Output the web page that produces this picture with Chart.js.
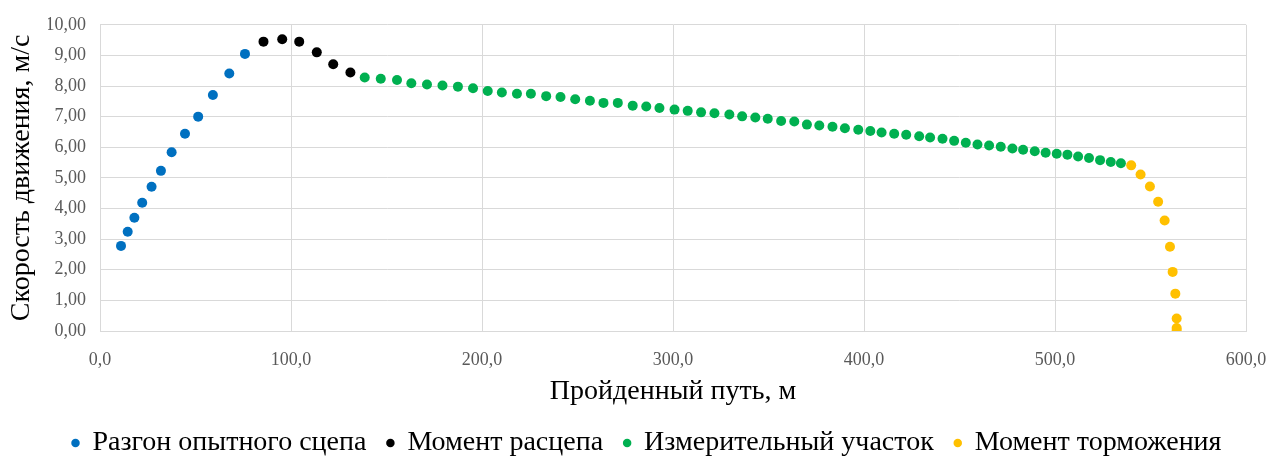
<!DOCTYPE html>
<html><head><meta charset="utf-8">
<script src="https://cdn.jsdelivr.net/npm/chart.js@4/dist/chart.umd.min.js"></script>
<style>html,body{margin:0;padding:0;background:#fff}#wrap{width:1269px;height:456px}</style>
</head><body><div id="wrap"><canvas id="c" width="1269" height="456"></canvas></div>
<script>
const seriesNames = ["Разгон опытного сцепа","Момент расцепа","Измерительный участок","Момент торможения"];
const seriesColors = ["#0070C0","#000000","#00B050","#FFC000"];
const xTitle = "Пройденный путь, м";
const yTitle = "Скорость движения, м/с";

const accelX = [11.0,14.5,18.0,22.1,27.0,31.9,37.5,44.5,51.4,59.1,67.7,75.9];
const accelY = [2.78,3.24,3.70,4.19,4.71,5.23,5.84,6.44,7.00,7.71,8.41,9.05];

const releaseX = [85.6,95.4,104.3,113.5,122.1,131.1];
const releaseY = [9.45,9.53,9.45,9.10,8.71,8.44];

const measureX = [138.6,147.0,155.5,163.0,171.2,179.3,187.4,195.3,203.0,210.4,218.3,225.6,233.6,241.1,248.8,256.5,263.6,271.1,278.9,286.0,292.9,300.8,307.7,314.7,321.7,329.5,336.2,343.1,349.6,356.6,363.5,370.1,376.6,383.5,390.0,397.0,403.3,409.2,415.8,422.1,428.9,434.6,441.1,447.2,453.3,459.4,465.5,471.6,477.7,483.3,489.4,495.1,500.9,506.5,512.1,517.8,523.6,529.2,534.5];
const measureY = [8.28,8.24,8.20,8.09,8.05,8.02,7.98,7.93,7.84,7.79,7.75,7.75,7.67,7.64,7.57,7.52,7.45,7.45,7.36,7.33,7.28,7.23,7.19,7.14,7.11,7.07,7.01,6.97,6.93,6.86,6.84,6.74,6.71,6.67,6.62,6.57,6.53,6.48,6.44,6.41,6.36,6.32,6.28,6.21,6.15,6.09,6.06,6.02,5.96,5.92,5.87,5.82,5.79,5.76,5.70,5.65,5.58,5.52,5.48];

const brakeX = [539.9,544.8,549.7,554.0,557.4,560.2,561.6,563.0,563.7,563.7,563.7];
const brakeY = [5.41,5.11,4.72,4.22,3.61,2.75,1.93,1.22,0.41,0.10,0.02];

const xTicks = {min:0,max:600,step:100};
const yTicks = {min:0,max:10,step:1};

function pts(xs, ys){ return xs.map((x,i)=>({x:x,y:ys[i]})); }
const allX=[accelX,releaseX,measureX,brakeX], allY=[accelY,releaseY,measureY,brakeY];

const datasets = seriesNames.map((n,i)=>({
  label:n, data:pts(allX[i],allY[i]),
  backgroundColor:seriesColors[i], borderColor:seriesColors[i],
  pointRadius:5, pointHoverRadius:5, pointBorderWidth:0, showLine:false
}));

const serif = "'Liberation Serif','Times New Roman',serif";
new Chart(document.getElementById('c'),{
  type:'scatter',
  data:{datasets},
  options:{
    responsive:false, animation:false,
    layout:{padding:{left:48,right:23,top:22,bottom:-11}},
    plugins:{
      tooltip:{enabled:false},
      legend:{position:'bottom',
        labels:{usePointStyle:true,pointStyle:'circle',boxWidth:6,boxHeight:6,padding:21,
          color:'#000',font:{family:serif,size:28}}}
    },
    scales:{
      x:{type:'linear',min:xTicks.min,max:xTicks.max,
        afterFit:s=>{s.height=77; s.paddingLeft=0; s.paddingRight=0;},
        grid:{color:'#d9d9d9',drawTicks:false},
        border:{color:'#d9d9d9'},
        ticks:{stepSize:xTicks.step,padding:18,color:'#595959',font:{family:serif,size:18},
          callback:v=>v.toFixed(1).replace('.',',')},
        title:{display:true,text:xTitle,color:'#000',font:{family:serif,size:28},padding:{top:4,bottom:0}}
      },
      y:{type:'linear',min:yTicks.min,max:yTicks.max,
        afterFit:s=>{s.width=52;},
        grid:{color:'#d9d9d9',drawTicks:false},
        border:{color:'#d9d9d9'},
        ticks:{stepSize:yTicks.step,padding:14,color:'#595959',font:{family:serif,size:18},
          callback:v=>v.toFixed(2).replace('.',',')},
        title:{display:true,text:yTitle,color:'#000',font:{family:serif,size:28},padding:{top:-43,bottom:4}}
      }
    }
  }
});
</script></body></html>
